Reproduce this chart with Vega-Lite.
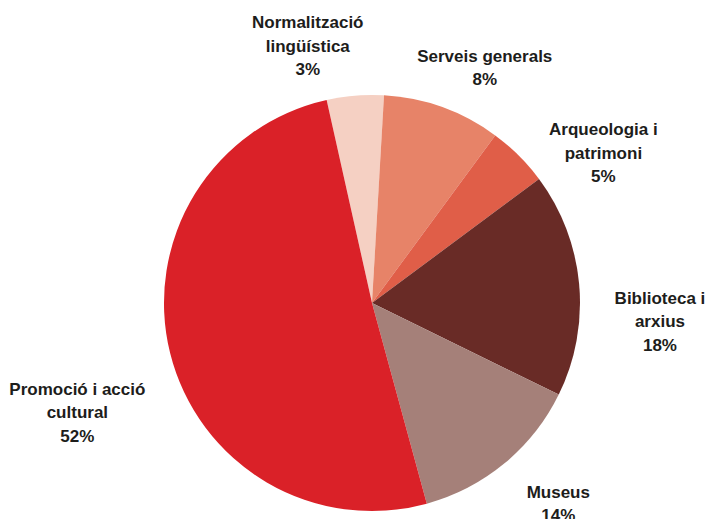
{
  "$schema": "https://vega.github.io/schema/vega-lite/v6.json",
  "width": 670,
  "height": 428,
  "padding": {"left": 37, "top": 89, "right": 0, "bottom": 2},
  "autosize": {"type": "none"},
  "background": "white",
  "view": {"stroke": null},
  "data": {
    "values": [
      {"cat": "Normalització lingüística", "value": 4.42, "label": "Normalització\nlingüística\n3%", "order": 1},
      {"cat": "Serveis generals", "value": 9.17, "label": "Serveis generals\n8%", "order": 2},
      {"cat": "Arqueologia i patrimoni", "value": 4.75, "label": "Arqueologia i\npatrimoni\n5%", "order": 3},
      {"cat": "Biblioteca i arxius", "value": 17.42, "label": "Biblioteca i\narxius\n18%", "order": 4},
      {"cat": "Museus", "value": 13.5, "label": "Museus\n14%", "order": 5},
      {"cat": "Promoció i acció cultural", "value": 50.75, "label": "Promoció i acció\ncultural\n52%", "order": 6}
    ]
  },
  "encoding": {
    "theta": {"field": "value", "type": "quantitative", "stack": true, "scale": {"range": [-0.2199, 6.0633]}},
    "order": {"field": "order", "type": "quantitative", "sort": "ascending"}
  },
  "layer": [
    {
      "mark": {"type": "arc", "outerRadius": 208},
      "encoding": {
        "color": {
          "field": "cat", "type": "nominal", "legend": null,
          "scale": {
            "domain": ["Normalització lingüística", "Serveis generals", "Arqueologia i patrimoni", "Biblioteca i arxius", "Museus", "Promoció i acció cultural"],
            "range": ["#F5D0C3", "#E78368", "#E05E48", "#692B26", "#A58079", "#DA2128"]
          }
        }
      }
    },
    {
      "mark": {"type": "text", "radius": 250, "dx": -44, "dy": -30.5, "font": "Liberation Sans", "fontWeight": "bold", "fontSize": 17, "lineBreak": "\n", "lineHeight": 23.5, "align": "center", "baseline": "middle", "color": "#1d1d1b"},
      "encoding": {"detail": {"field": "cat"}, "text": {"condition": {"test": "datum.cat === 'Normalització lingüística'", "field": "label"}, "value": ""}}
    },
    {
      "mark": {"type": "text", "radius": 250, "dx": 28, "dy": -11, "font": "Liberation Sans", "fontWeight": "bold", "fontSize": 17, "lineBreak": "\n", "lineHeight": 23.5, "align": "center", "baseline": "middle", "color": "#1d1d1b"},
      "encoding": {"detail": {"field": "cat"}, "text": {"condition": {"test": "datum.cat === 'Serveis generals'", "field": "label"}, "value": ""}}
    },
    {
      "mark": {"type": "text", "radius": 250, "dx": 55, "dy": 4.5, "font": "Liberation Sans", "fontWeight": "bold", "fontSize": 17, "lineBreak": "\n", "lineHeight": 23.5, "align": "center", "baseline": "middle", "color": "#1d1d1b"},
      "encoding": {"detail": {"field": "cat"}, "text": {"condition": {"test": "datum.cat === 'Arqueologia i patrimoni'", "field": "label"}, "value": ""}}
    },
    {
      "mark": {"type": "text", "radius": 250, "dx": 39, "dy": 18.5, "font": "Liberation Sans", "fontWeight": "bold", "fontSize": 17, "lineBreak": "\n", "lineHeight": 23.5, "align": "center", "baseline": "middle", "color": "#1d1d1b"},
      "encoding": {"detail": {"field": "cat"}, "text": {"condition": {"test": "datum.cat === 'Biblioteca i arxius'", "field": "label"}, "value": ""}}
    },
    {
      "mark": {"type": "text", "radius": 250, "dx": 27, "dy": -3, "font": "Liberation Sans", "fontWeight": "bold", "fontSize": 17, "lineBreak": "\n", "lineHeight": 23.5, "align": "center", "baseline": "middle", "color": "#1d1d1b"},
      "encoding": {"detail": {"field": "cat"}, "text": {"condition": {"test": "datum.cat === 'Museus'", "field": "label"}, "value": ""}}
    },
    {
      "mark": {"type": "text", "radius": 250, "dx": -52, "dy": 26.5, "font": "Liberation Sans", "fontWeight": "bold", "fontSize": 17, "lineBreak": "\n", "lineHeight": 23.5, "align": "center", "baseline": "middle", "color": "#1d1d1b"},
      "encoding": {"detail": {"field": "cat"}, "text": {"condition": {"test": "datum.cat === 'Promoció i acció cultural'", "field": "label"}, "value": ""}}
    }
  ]
}
